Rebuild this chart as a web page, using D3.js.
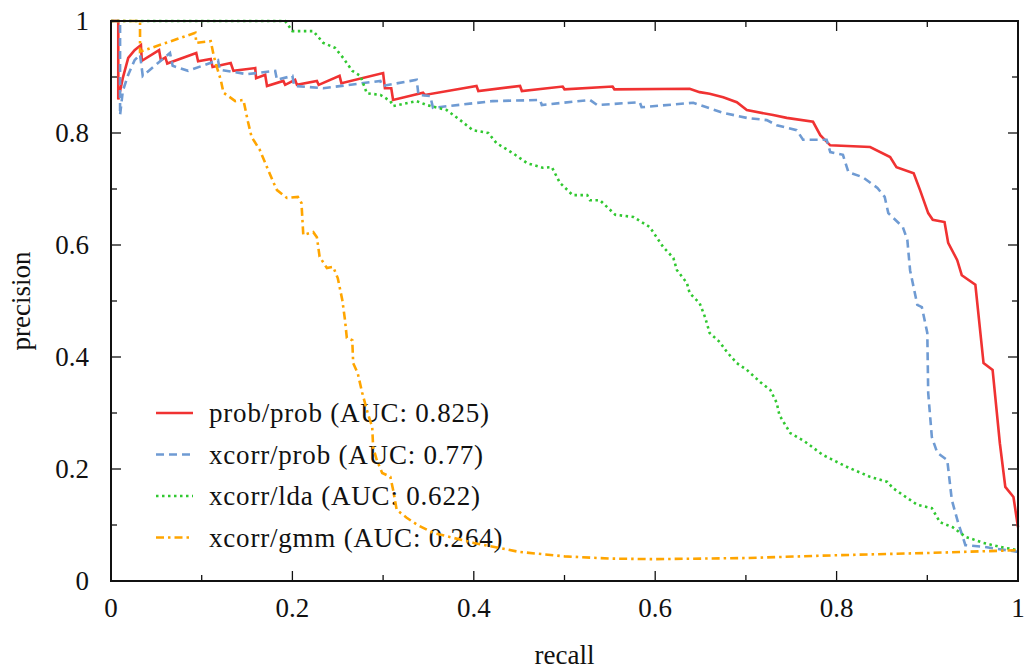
<!DOCTYPE html>
<html><head><meta charset="UTF-8"><script src="https://d3js.org/d3.v7.min.js"></script></head>
<body style="margin:0">
<script>
// recall / precision pairs
var probProb = [[0,1],[0.008,1],[0.008,0.86],[0.013,0.898],[0.019,0.934],[0.026,0.948],[0.033,0.957],
  [0.034,0.929],[0.053,0.948],[0.055,0.93],[0.06,0.935],[0.062,0.924],[0.094,0.943],[0.096,0.928],
  [0.11,0.932],[0.112,0.918],[0.132,0.925],[0.135,0.911],[0.159,0.916],[0.16,0.898],[0.17,0.904],
  [0.172,0.884],[0.19,0.893],[0.192,0.886],[0.203,0.895],[0.205,0.886],[0.227,0.893],[0.229,0.886],
  [0.252,0.902],[0.254,0.889],[0.3,0.907],[0.302,0.88],[0.309,0.88],[0.311,0.859],[0.344,0.872],
  [0.346,0.868],[0.403,0.884],[0.405,0.875],[0.451,0.884],[0.453,0.875],[0.498,0.883],[0.5,0.878],
  [0.553,0.883],[0.555,0.878],[0.638,0.879],[0.649,0.873],[0.66,0.87],[0.675,0.864],[0.69,0.855],
  [0.701,0.841],[0.73,0.832],[0.745,0.827],[0.774,0.82],[0.782,0.796],[0.793,0.778],[0.837,0.775],
  [0.859,0.757],[0.866,0.739],[0.885,0.728],[0.892,0.698],[0.901,0.657],[0.906,0.645],[0.919,0.641],
  [0.923,0.604],[0.933,0.573],[0.938,0.546],[0.953,0.529],[0.962,0.389],[0.972,0.377],[0.98,0.246],
  [0.986,0.168],[0.995,0.15],[1.0,0.096]];

var xcorrProb = [[0,1],[0.01,1],[0.01,0.832],[0.013,0.875],[0.019,0.904],[0.026,0.93],[0.032,0.94],
  [0.035,0.902],[0.065,0.943],[0.068,0.92],[0.085,0.911],[0.118,0.93],[0.12,0.913],[0.15,0.905],
  [0.181,0.911],[0.183,0.895],[0.2,0.902],[0.202,0.884],[0.234,0.88],[0.297,0.893],[0.299,0.884],
  [0.337,0.895],[0.339,0.868],[0.352,0.866],[0.355,0.845],[0.421,0.857],[0.473,0.859],[0.475,0.85],
  [0.528,0.859],[0.536,0.85],[0.583,0.855],[0.585,0.846],[0.642,0.854],[0.649,0.85],[0.675,0.836],
  [0.701,0.827],[0.723,0.823],[0.734,0.814],[0.756,0.805],[0.763,0.788],[0.789,0.788],[0.793,0.766],
  [0.807,0.761],[0.813,0.73],[0.829,0.721],[0.845,0.702],[0.853,0.686],[0.857,0.657],[0.873,0.632],
  [0.878,0.609],[0.881,0.555],[0.889,0.493],[0.894,0.489],[0.9,0.443],[0.901,0.336],[0.905,0.257],
  [0.911,0.229],[0.922,0.216],[0.927,0.145],[0.934,0.104],[0.942,0.064],[0.962,0.061],[1.0,0.052]];

var xcorrLda = [[0,1],[0.192,1],[0.2,0.982],[0.223,0.982],[0.234,0.961],[0.247,0.952],[0.256,0.934],
  [0.266,0.911],[0.275,0.902],[0.282,0.871],[0.297,0.868],[0.308,0.857],[0.311,0.848],[0.337,0.857],
  [0.348,0.85],[0.37,0.841],[0.385,0.823],[0.399,0.805],[0.416,0.8],[0.425,0.782],[0.443,0.764],
  [0.459,0.746],[0.476,0.738],[0.486,0.739],[0.495,0.711],[0.509,0.689],[0.525,0.689],[0.528,0.68],
  [0.539,0.68],[0.556,0.654],[0.576,0.65],[0.594,0.632],[0.609,0.596],[0.62,0.577],[0.624,0.555],
  [0.635,0.532],[0.638,0.514],[0.649,0.496],[0.655,0.471],[0.66,0.443],[0.671,0.427],[0.679,0.409],
  [0.69,0.389],[0.701,0.377],[0.716,0.355],[0.727,0.341],[0.734,0.318],[0.737,0.296],[0.749,0.264],
  [0.765,0.249],[0.785,0.225],[0.811,0.204],[0.837,0.186],[0.856,0.177],[0.862,0.166],[0.889,0.136],
  [0.905,0.13],[0.914,0.105],[0.928,0.096],[0.942,0.079],[0.962,0.068],[0.98,0.061],[1.0,0.055]];

var xcorrGmm = [[0,1],[0.032,1],[0.032,0.945],[0.093,0.979],[0.094,0.961],[0.11,0.964],[0.113,0.94],
  [0.116,0.921],[0.121,0.895],[0.124,0.872],[0.137,0.857],[0.146,0.859],[0.151,0.82],[0.155,0.793],
  [0.164,0.77],[0.172,0.739],[0.179,0.712],[0.183,0.698],[0.194,0.684],[0.206,0.686],[0.21,0.675],
  [0.212,0.618],[0.223,0.623],[0.227,0.614],[0.23,0.579],[0.238,0.559],[0.245,0.561],[0.25,0.541],
  [0.255,0.502],[0.258,0.466],[0.26,0.434],[0.266,0.43],[0.267,0.389],[0.272,0.371],[0.277,0.336],
  [0.283,0.3],[0.288,0.275],[0.289,0.239],[0.293,0.216],[0.299,0.193],[0.308,0.186],[0.311,0.163],
  [0.315,0.127],[0.326,0.113],[0.338,0.1],[0.355,0.086],[0.4,0.068],[0.45,0.052],[0.5,0.044],
  [0.55,0.04],[0.6,0.039],[0.7,0.041],[0.8,0.046],[0.9,0.05],[1.0,0.055]];

var seriesNames = ["prob/prob (AUC: 0.825)", "xcorr/prob (AUC: 0.77)",
                   "xcorr/lda (AUC: 0.622)", "xcorr/gmm (AUC: 0.264)"];
var xTickLabels = [0, 0.2, 0.4, 0.6, 0.8, 1];
var yTickLabels = [0, 0.2, 0.4, 0.6, 0.8, 1];

var styles = [
  {color: "#f03232", dash: null, width: 2.6},
  {color: "#6f9bd3", dash: "8,5", width: 2.6},
  {color: "#30c830", dash: "2.5,3.5", width: 2.6},
  {color: "#ffa500", dash: "8,4,2.5,4", width: 2.6}
];

var margin = {top: 21, right: 9, bottom: 88, left: 111};
var fullWidth = 1027, fullHeight = 669;
var width = fullWidth - margin.left - margin.right;
var height = fullHeight - margin.top - margin.bottom;

function serifText(sel) {
  return sel.style("font-family", function() { return "'Liberation Serif'"; })
    .attr("font-size", 27)
    .attr("fill", "#111");
}

var svg = d3.select("body").append("svg")
    .attr("width", fullWidth)
    .attr("height", fullHeight);

var g = svg.append("g")
    .attr("transform", "translate(" + margin.left + "," + margin.top + ")");

var x = d3.scaleLinear().domain([0, 1]).range([0, width]);
var y = d3.scaleLinear().domain([0, 1]).range([height, 0]);

// ticks on all four sides, pointing inward; minor every 0.1
var minor = d3.range(0.1, 1, 0.2);
function tickFmt(d) { return d === 0 ? "0" : d === 1 ? "1" : d3.format(".1f")(d); }

function tickGroup(scale, vals, size, tr, vertical) {
  var t = g.append("g").attr("transform", tr);
  t.selectAll("line").data(vals).enter().append("line")
    .attr("x1", function(d) { return vertical ? 0 : scale(d); })
    .attr("x2", function(d) { return vertical ? size : scale(d); })
    .attr("y1", function(d) { return vertical ? scale(d) : 0; })
    .attr("y2", function(d) { return vertical ? scale(d) : size; })
    .attr("stroke", "#111").attr("stroke-width", 1.3);
}

tickGroup(x, xTickLabels, -10, "translate(0," + height + ")", false);
tickGroup(x, minor, -6, "translate(0," + height + ")", false);
tickGroup(x, xTickLabels, 10, "translate(0,0)", false);
tickGroup(x, minor, 6, "translate(0,0)", false);
tickGroup(y, yTickLabels, 10, "translate(0,0)", true);
tickGroup(y, minor, 6, "translate(0,0)", true);
tickGroup(y, yTickLabels, -10, "translate(" + width + ",0)", true);
tickGroup(y, minor, -6, "translate(" + width + ",0)", true);

// tick labels
g.selectAll(".xlab").data(xTickLabels).enter().append("text")
    .attr("class", "xlab")
    .call(serifText)
    .attr("x", function(d) { return x(d); })
    .attr("y", height + 36)
    .attr("text-anchor", "middle")
    .text(tickFmt);

g.selectAll(".ylab").data(yTickLabels).enter().append("text")
    .attr("class", "ylab")
    .call(serifText)
    .attr("x", -22)
    .attr("y", function(d) { return y(d); })
    .attr("dy", "0.34em")
    .attr("text-anchor", "end")
    .text(tickFmt);

// legend (drawn before the curves, the curves pass over it)
var legend = g.selectAll(".legend")
    .data(seriesNames)
    .enter().append("g")
    .attr("class", "legend")
    .attr("transform", function(d, i) { return "translate(45," + (392 + i * 41.5) + ")"; });

legend.append("line")
    .attr("x1", 0).attr("x2", 37)
    .attr("stroke", function(d, i) { return styles[i].color; })
    .attr("stroke-width", function(d, i) { return styles[i].width; })
    .attr("stroke-dasharray", function(d, i) { return styles[i].dash; });

legend.append("text")
    .call(serifText)
    .attr("x", 53)
    .attr("dy", "0.34em")
    .style("letter-spacing", "0.8px")
    .text(function(d) { return d; });

var line = d3.line()
    .x(function(d) { return x(d[0]); })
    .y(function(d) { return y(d[1]); });

var allSeries = [probProb, xcorrProb, xcorrLda, xcorrGmm];

g.selectAll(".curve")
    .data(allSeries)
    .enter().append("path")
    .attr("class", "curve")
    .attr("d", line)
    .attr("fill", "none")
    .attr("stroke", function(d, i) { return styles[i].color; })
    .attr("stroke-width", function(d, i) { return styles[i].width; })
    .attr("stroke-dasharray", function(d, i) { return styles[i].dash; });

// frame
g.append("rect")
    .attr("width", width).attr("height", height)
    .attr("fill", "none").attr("stroke", "#111").attr("stroke-width", 2);

svg.append("text")
    .call(serifText)
    .attr("x", margin.left + width / 2)
    .attr("y", 664)
    .attr("text-anchor", "middle")
    .text("recall");

svg.append("text")
    .call(serifText)
    .attr("transform", "translate(30," + (margin.top + height / 2) + ") rotate(-90)")
    .attr("text-anchor", "middle")
    .text("precision");
</script>
</body></html>
